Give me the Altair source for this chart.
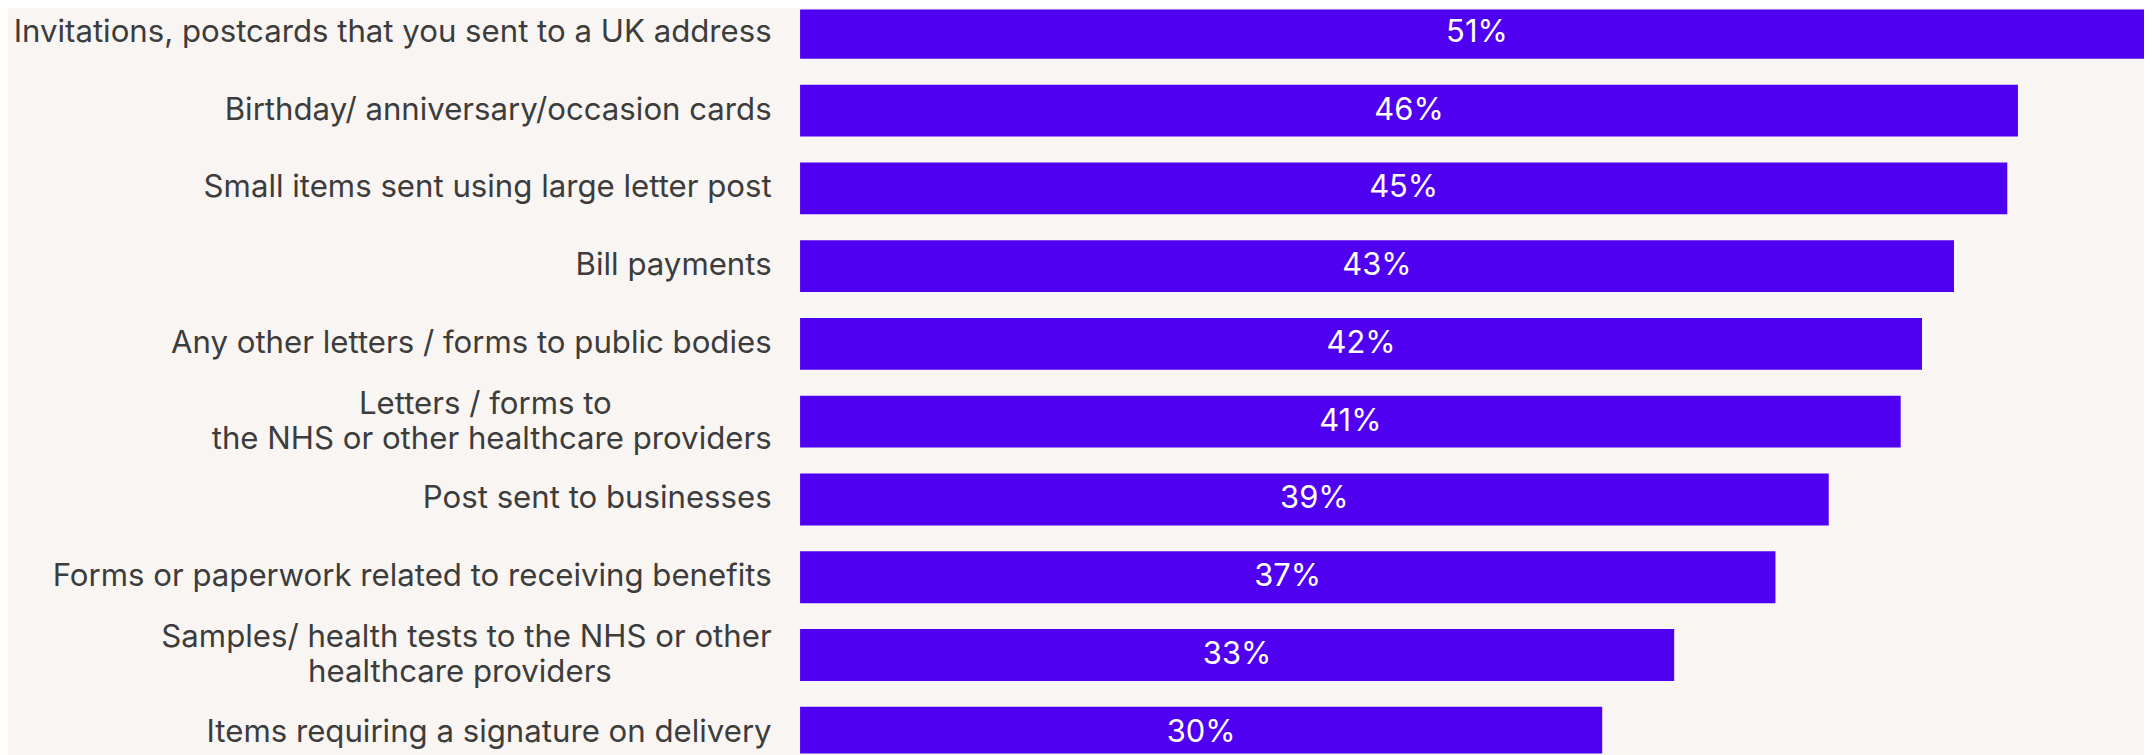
import altair as alt
import pandas as pd

PAD = "\u2800"

categories = [
    "Invitations, postcards that you sent to a UK address",
    "Birthday/ anniversary/occasion cards",
    "Small items sent using large letter post",
    "Bill payments",
    "Any other letters / forms to public bodies",
    "Letters / forms to" + PAD * 7 + "\nthe NHS or other healthcare providers",
    "Post sent to businesses",
    "Forms or paperwork related to receiving benefits",
    "Samples/ health tests to the NHS or other\nhealthcare providers" + PAD * 7,
    "Items requiring a signature on delivery",
]
values = [50.8, 45.7, 45.3, 43.3, 42.1, 41.3, 38.6, 36.6, 32.8, 30.1]
labels = ["51%", "46%", "45%", "43%", "42%", "41%", "39%", "37%", "33%", "30%"]

df = pd.DataFrame({"category": categories, "value": values, "label": labels})

BAR = "#5000F0"
BG = "#F9F5F3"
TXT = "#3C3C3C"
FONT = "Inter, DejaVu Sans"

y_enc = alt.Y(
    "category:N",
    sort=categories,
    scale=alt.Scale(range=[-15.5, 765.1], paddingInner=0.333, paddingOuter=0.1667),
    axis=alt.Axis(
        title=None,
        ticks=False,
        domain=False,
        grid=False,
        labelFont=FONT,
        labelFontSize=31.3,
        labelColor=TXT,
        labelPadding=29,
        labelLimit=1200,
        labelLineHeight=35,
        labelExpr="split(datum.label, '\\n')",
        labelOffset={
            "condition": {"test": "indexof(datum.value, '\\n') >= 0", "value": -17},
            "value": 0,
        },
    ),
)

x_scale = alt.Scale(domain=[0, 50.43], nice=False, zero=True)

bars = alt.Chart(df).mark_bar(color=BAR, clip=True).encode(
    y=y_enc,
    x=alt.X("value:Q", scale=x_scale, axis=None),
)

text = alt.Chart(df).transform_calculate(mid="datum.value / 2").mark_text(
    color="white", font=FONT, fontSize=31, baseline="middle", align="center"
).encode(
    y=alt.Y("category:N", sort=categories),
    x=alt.X("mid:Q", scale=x_scale, axis=None),
    text="label:N",
)

chart = (
    alt.layer(bars, text)
    .properties(
        width=1349,
        height=747,
        autosize=alt.AutoSizeParams(type="none"),
        padding={"left": 795, "top": 0, "right": 0, "bottom": 0},
        background=BG,
    )
    .configure_view(stroke=None)
)

chart.save("out.html", embed_options={"renderer": "svg", "actions": False})
